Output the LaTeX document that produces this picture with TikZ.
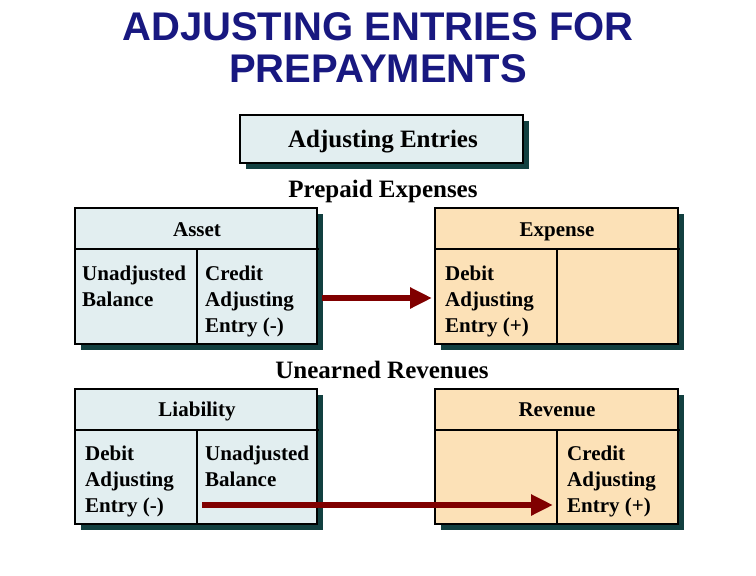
\documentclass[tikz,border=0pt]{standalone}
\usepackage{fontspec}
\setmainfont{Liberation Serif}
\newfontfamily\titlefont{Liberation Sans}
\usetikzlibrary{shadows,arrows.meta}
\definecolor{titleblue}{RGB}{24,24,128}
\definecolor{bluefill}{RGB}{226,238,240}
\definecolor{peach}{RGB}{252,225,183}
\definecolor{shadowc}{RGB}{18,64,64}
\definecolor{arrowred}{RGB}{128,0,0}
\begin{document}
\begin{tikzpicture}[x=1pt,y=-1pt,
 box/.style={draw=black, line width=1.5pt, anchor=north west, inner sep=0pt, outer sep=0pt,
   drop shadow={shadow xshift=6pt,shadow yshift=-6pt,fill=shadowc,opacity=1}},
 rule/.style={line width=2.5pt},
 hdr/.style={font=\fontsize{21}{26}\selectfont\bfseries, anchor=base, inner sep=0pt},
 cell/.style={anchor=base west, inner sep=0pt, font=\fontsize{21}{26}\selectfont\bfseries},
 big/.style={font=\fontsize{25}{28}\selectfont\bfseries, anchor=base, inner sep=0pt},
 ttl/.style={font=\titlefont\fontsize{40}{44}\selectfont\bfseries, text=titleblue, anchor=base, inner sep=0pt},
 flow/.style={draw=arrowred, line width=6pt, -{Triangle[length=22pt,width=20pt]}}
]
\useasboundingbox (0,0) rectangle (756,576);

% title
\node[ttl] (t1) at (378,40) {ADJUSTING ENTRIES FOR};
\node[ttl] (t2) at (378,82) {PREPAYMENTS};

% top box
\node[box, fill=bluefill, minimum width=283pt, minimum height=48pt] (adj) at (240,115) {};
\node[big] (adjt) at (383,147) {Adjusting Entries};

\node[big] (pe) at (383,197) {Prepaid Expenses};

% Asset
\node[box, fill=bluefill, minimum width=242pt, minimum height=136pt] (asset) at (75,208) {};
\draw[rule] (asset.west |- 0,249) -- ([xshift=2pt]asset.east |- 0,249);
\draw[rule] (197,249) -- (asset.south -| 197,0);
\node[hdr] (assett) at (197,236) {Asset};
\node[cell] (a1) at (82,280) {\parbox[t]{115pt}{Unadjusted\\Balance}};
\node[cell] (a2) at (205,280) {\parbox[t]{115pt}{Credit\\Adjusting\\Entry (-)}};

% Expense
\node[box, fill=peach, minimum width=243pt, minimum height=136pt] (exp) at (435,208) {};
\draw[rule] (exp.west |- 0,249) -- ([xshift=2pt]exp.east |- 0,249);
\draw[rule] (557,249) -- (exp.south -| 557,0);
\node[hdr] (expt) at (557,236) {Expense};
\node[cell] (e1) at (445,280) {\parbox[t]{115pt}{Debit\\Adjusting\\Entry (+)}};

\draw[flow] ([xshift=5pt]asset.east |- 0,298) -- ([xshift=-3pt]exp.west |- 0,298);

\node[big] (ur) at (382,378) {Unearned Revenues};

% Liability
\node[box, fill=bluefill, minimum width=242pt, minimum height=135pt] (liab) at (75,389) {};
\draw[rule] (liab.west |- 0,430) -- ([xshift=2pt]liab.east |- 0,430);
\draw[rule] (197,430) -- (liab.south -| 197,0);
\node[hdr] (liabt) at (197,416) {Liability};
\node[cell] (l1) at (85,460) {\parbox[t]{110pt}{Debit\\Adjusting\\Entry (-)}};
\node[cell] (l2) at (205,460) {\parbox[t]{115pt}{Unadjusted\\Balance}};

% Revenue
\node[box, fill=peach, minimum width=243pt, minimum height=135pt] (rev) at (435,389) {};
\draw[rule] (rev.west |- 0,430) -- ([xshift=2pt]rev.east |- 0,430);
\draw[rule] (557,430) -- (rev.south -| 557,0);
\node[hdr] (revt) at (557,416) {Revenue};
\node[cell] (r1) at (567,460) {\parbox[t]{110pt}{Credit\\Adjusting\\Entry (+)}};

\coordinate (s2) at (202,505);
\coordinate (e2) at (553,505);
\draw[flow] (s2) -- (e2);
\end{tikzpicture}
\end{document}
